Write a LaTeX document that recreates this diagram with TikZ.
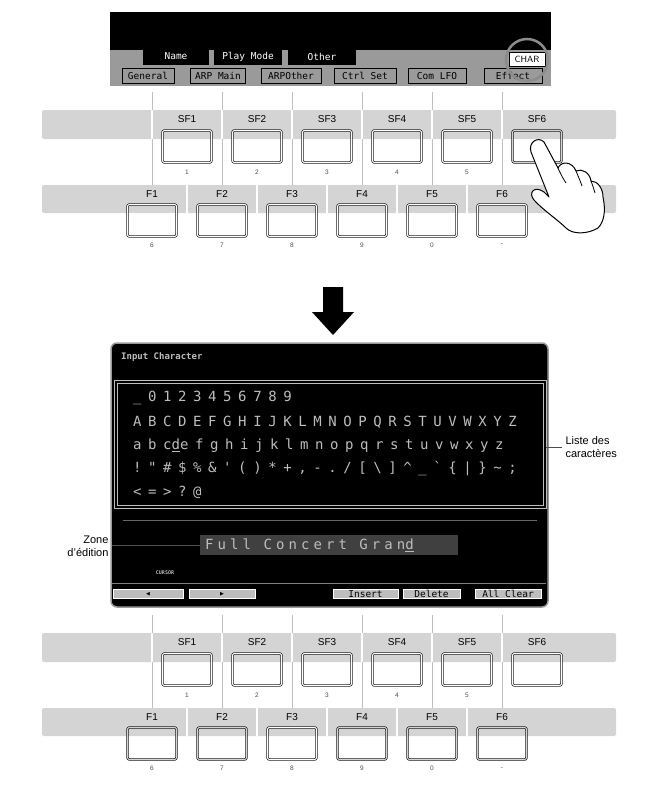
\documentclass[tikz,border=0pt]{standalone}
\usepackage{fontspec}
\setmainfont{Liberation Sans}
\newfontfamily\scr{DejaVu Sans Mono}
\newfontfamily\scrwide[LetterSpace=47]{DejaVu Sans Mono}
\newfontfamily\scrmid[LetterSpace=29]{DejaVu Sans Mono}
\newfontfamily\symf{DejaVu Sans}
\definecolor{band}{HTML}{D4D4D4}
\definecolor{lcd}{HTML}{BDBDBD}
\definecolor{tabg}{HTML}{9A9A9A}
\begin{document}
\begin{tikzpicture}[x=1pt,y=-1pt,
  key/.style={draw=black,line width=0.6pt,rounded corners=2pt,double=white,double distance=1.2pt,minimum width=49pt,minimum height=32pt,inner sep=0pt},
  lab/.style={font=\fontsize{10}{12}\selectfont},
  num/.style={font=\fontsize{6.5}{8}\selectfont,text=black!70},
  sep/.style={draw=black!25,line width=0.6pt},
  lcdt/.style={font=\scrwide\fontsize{14}{15}\selectfont,text=lcd,anchor=west,inner sep=0pt},
  tab/.style={font=\scr\fontsize{9.5}{10}\selectfont,inner sep=0pt},
  sbtn/.style={draw=white,fill=lcd,inner sep=0pt,font=\scr\fontsize{9.5}{10}\selectfont}]
\useasboundingbox (0,0) rectangle (667,785);
% ---------- top screen ----------
\fill[black] (110,12) rectangle (551,86);
\fill[tabg] (110,50) rectangle (551,86);
\fill[black] (110,47) -- (140,47) -- (143,44) -- (110,44) -- cycle;
\node[tab,fill=black,text=white,minimum width=66pt,minimum height=18pt] (tname) at (176,56) {Name};
\node[tab,fill=black,text=white,minimum width=68pt,minimum height=16pt] (tplay) at (248,57) {Play Mode};
\node[tab,fill=black,text=white,minimum width=68pt,minimum height=16pt] (tother) at (322,57) {Other};
\foreach \t/\c/\w [count=\i] in {General/148/52,ARP Main/218/55,ARPOther/291/60,Ctrl Set/365/62,Com LFO/437/58,Effect/513/58}{
  \node[tab,fill=tabg,draw=black,line width=1pt,text=black,minimum width=\w pt,minimum height=15pt] (r\i) at (\c,76) {\t};}
\node[tab,fill=white,draw=black,line width=0.8pt,font=\sffamily\fontsize{9}{10}\selectfont,minimum width=36pt,minimum height=14pt] (char) at (527,59) {CHAR};
\draw[black!45,line width=2.5pt] (527,60) circle (21);
% ---------- function key panels ----------
\foreach \oy in {0,523}{
  \begin{scope}[yshift=-\oy pt]
  \fill[band,rounded corners=2pt] (42,110) rectangle (616,139);
  \fill[band,rounded corners=2pt] (42,185) rectangle (616,213);
  \foreach \i in {0,...,5}{
    \pgfmathsetmacro\sx{152+70*\i}
    \draw[sep] (\sx,92) -- (\sx,110);
    \draw[white,line width=1.4pt] (\sx,110) -- (\sx,139);
    \draw[sep] (\sx,139) -- (\sx,185);
  }
  \foreach \i in {0,...,4}{
    \pgfmathsetmacro\fx{187+70*\i}
    \draw[white,line width=1.4pt] (\fx,185) -- (\fx,213);
  }
  \end{scope}
}
% top panel keys
\foreach \i/\n in {1/1,2/2,3/3,4/4,5/5}{
  \pgfmathsetmacro\cx{117+70*\i}
  \node[lab] (asfl\i) at (\cx,119) {SF\i};
  \node[key] (asf\i) at (\cx,146.5) {};
  \node[num] (asfn\i) at (\cx,172) {\n};}
\node[lab] (asfl6) at (537,119) {SF6};
\node[key,double=band] (asf6) at (537,146.5) {};
\foreach \i/\n in {1/6,2/7,3/8,4/9,5/0,6/-}{
  \pgfmathsetmacro\cx{82+70*\i}
  \node[lab] (afl\i) at (\cx,194) {F\i};
  \node[key] (af\i) at (\cx,220.5) {};
  \node[num] (afn\i) at (\cx,245) {\n};}
% hand
\draw[fill=white,line width=1pt,line join=round]
  (531,152) .. controls (528,142) and (538,136) .. (544,142)
  -- (558,168)
  .. controls (561,161) and (572,161) .. (576,171)
  .. controls (582,168) and (590,173) .. (591,181)
  .. controls (598,181) and (603,189) .. (603,197)
  .. controls (606,211) and (604,222) .. (598,228)
  .. controls (588,234) and (573,235) .. (566,228)
  .. controls (558,220) and (543,210) .. (534,200)
  .. controls (528,193) and (534,185) .. (544,192)
  -- (549,197)
  -- cycle;
\draw[line width=0.8pt] (558,168) .. controls (561,175) and (564,180) .. (566,183);
\draw[line width=0.8pt] (576,171) .. controls (579,178) and (581,183) .. (582,186);
\draw[line width=0.8pt] (591,181) .. controls (593,186) and (594,190) .. (595,193);
% ---------- arrow ----------
\fill[black] (323,287) -- (343,287) -- (343,312) -- (354,312) -- (333,335) -- (312,312) -- (323,312) -- cycle;
% ---------- character screen ----------
\draw[fill=black,draw=black!40,line width=1.5pt,rounded corners=6pt] (111,343) rectangle (548,607);
\node[font=\scr\bfseries\fontsize{9}{10}\selectfont,text=lcd,anchor=west,inner sep=0pt] (title) at (121,357) {Input Character};
\draw[lcd,line width=0.8pt,double=black,double distance=1.5pt] (116,382) rectangle (545,507);
\node[lcdt] (row1) at (133,398) {\_0123456789};
\node[lcdt] (row2) at (133,422) {ABCDEFGHIJKLMNOPQRSTUVWXYZ};
\node[lcdt] (row3) at (133,446) {abc\underline{d}efghijklmnopqrstuvwxyz};
\node[lcdt] (row4) at (133,469) {!"\#\$\%\&'()*+,-./[\textbackslash]\textasciicircum\_`\{|\}\textasciitilde;};
\node[lcdt] (row5) at (133,492) {<=>?@};
\draw[black!60,line width=0.8pt] (123,520) -- (537,520);
\node[fill=black!75!white,minimum width=258pt,minimum height=20pt,inner sep=0pt] (field) at (329,545) {};
\node[font=\scrmid\fontsize{14}{15}\selectfont,text=lcd,anchor=west,inner sep=0pt] (ftext) at (205,545) {Full Concert Gran\underline{d}};
\node[font=\scr\bfseries\fontsize{5}{6}\selectfont,text=lcd,inner sep=0pt] (cursor) at (165,573) {CURSOR};
\draw[black!50,line width=1pt] (112,583) -- (546,583);
\node[sbtn,minimum width=70pt,minimum height=9pt,font=\symf\fontsize{5}{6}\selectfont] (bl) at (148,594) {◀};
\node[sbtn,minimum width=66pt,minimum height=9pt,font=\symf\fontsize{5}{6}\selectfont] (br) at (222,594) {▶};
\node[sbtn,minimum width=65pt,minimum height=9pt] (bins) at (365.5,594) {Insert};
\node[sbtn,minimum width=57pt,minimum height=9pt] (bdel) at (431.5,594) {Delete};
\node[sbtn,minimum width=66pt,minimum height=9pt] (bac) at (508,594) {All Clear};
% labels
\node[font=\fontsize{11}{13}\selectfont,align=left,anchor=west] (liste) at (562,447) {Liste des\\caractères};
\draw[black!70,line width=0.7pt] (546,447) -- (liste.west);
\node[font=\fontsize{11}{13}\selectfont,align=right,anchor=east] (zone) at (112,546) {Zone\\d'édition};
\draw[black!70,line width=0.7pt] (zone.east |- field.west) -- (field.west);
% bottom panel keys
\foreach \i/\n in {1/1,2/2,3/3,4/4,5/5,6/}{
  \pgfmathsetmacro\cx{117+70*\i}
  \node[lab] (bsfl\i) at (\cx,642) {SF\i};
  \node[key] (bsf\i) at (\cx,669.5) {};
  \node[num] (bsfn\i) at (\cx,695) {\n};}
\foreach \i/\n/\f in {1/6/band,2/7/band,3/8/white,4/9/band,5/0/band,6/-/band}{
  \pgfmathsetmacro\cx{82+70*\i}
  \node[lab] (bfl\i) at (\cx,717) {F\i};
  \node[key,double=\f] (bf\i) at (\cx,743.5) {};
  \node[num] (bfn\i) at (\cx,768) {\n};}
\end{tikzpicture}
\end{document}
